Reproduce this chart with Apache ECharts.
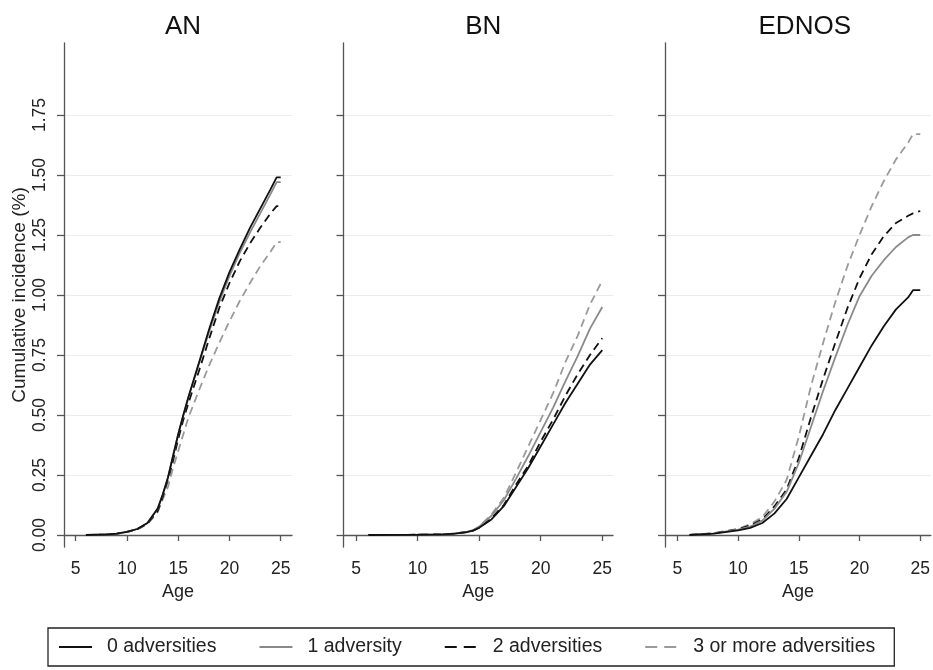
<!DOCTYPE html>
<html>
<head>
<meta charset="utf-8">
<script src="https://cdn.jsdelivr.net/npm/echarts@6/dist/echarts.min.js"></script>
<style>
  html, body { margin: 0; padding: 0; background: #fff; }
  #chart { width: 933px; height: 670px; }
</style>
</head>
<body>
<div id="chart"></div>
<script>
// panel titles and legend names
var panels = ['AN', 'BN', 'EDNOS'];
var groups = ['0 adversities', '1 adversity', '2 adversities', '3 or more adversities'];
var xTicks = [5, 10, 15, 20, 25];
var yTicks = [0, 0.25, 0.5, 0.75, 1, 1.25, 1.5, 1.75];

// AN
var agesAN = [6, 8, 9, 10, 11, 12, 13, 13.5, 14, 14.5, 15, 15.5, 16, 17, 18, 19, 20, 21, 22, 23, 24, 24.6, 25];
var an0 = [0, .002, .006, .013, .025, .05, .11, .17, .24, .33, .42, .50, .575, .715, .855, .985, 1.095, 1.19, 1.28, 1.36, 1.44, 1.49, 1.49];
var an1 = [0, .002, .006, .013, .025, .05, .11, .17, .24, .33, .42, .50, .575, .71, .845, .97, 1.08, 1.175, 1.26, 1.34, 1.42, 1.47, 1.47];
var an2 = [0, .002, .006, .013, .024, .048, .10, .16, .23, .31, .40, .48, .55, .68, .815, .945, 1.05, 1.14, 1.215, 1.28, 1.34, 1.37, 1.37];
var an3 = [0, .002, .005, .012, .023, .045, .095, .15, .20, .28, .35, .42, .49, .60, .705, .80, .89, .975, 1.05, 1.12, 1.18, 1.22, 1.22];

// BN
var agesBN = [6, 10, 12, 13, 14, 14.5, 15, 16, 17, 18, 19, 20, 21, 22, 23, 24, 25];
var bn0 = [0, .001, .003, .006, .012, .018, .03, .065, .12, .20, .28, .37, .46, .55, .63, .71, .77];
var bn1 = [0, .001, .003, .006, .013, .02, .035, .08, .145, .235, .33, .43, .53, .64, .745, .86, .95];
var bn2 = [0, .001, .003, .006, .012, .018, .03, .07, .125, .21, .29, .39, .48, .58, .67, .75, .82];
var bn3 = [0, .001, .003, .006, .013, .02, .035, .085, .155, .26, .37, .48, .59, .72, .83, .96, 1.06];

// EDNOS
var agesED = [6, 8, 10, 11, 12, 13, 14, 15, 16, 17, 18, 19, 20, 21, 22, 23, 24, 24.4, 25];
var ed0 = [0, .006, .019, .03, .05, .09, .15, .24, .33, .42, .52, .61, .70, .79, .87, .94, .99, 1.02, 1.02];
var ed1 = [0, .007, .022, .035, .06, .11, .18, .30, .45, .60, .74, .875, .995, 1.08, 1.145, 1.20, 1.24, 1.25, 1.25];
var ed2 = [0, .007, .024, .04, .065, .12, .19, .32, .49, .65, .80, .945, 1.07, 1.17, 1.245, 1.30, 1.33, 1.34, 1.35];
var ed3 = [0, .008, .026, .045, .075, .14, .23, .41, .62, .80, .97, 1.12, 1.25, 1.37, 1.475, 1.565, 1.635, 1.67, 1.67];

var panelData = [
  [agesAN, [an0, an1, an2, an3]],
  [agesBN, [bn0, bn1, bn2, bn3]],
  [agesED, [ed0, ed1, ed2, ed3]]
];

var font = 'Liberation Sans, Arial, Helvetica, sans-serif';
var lineStyles = [
  { color: '#111111', type: 'solid' },
  { color: '#8a8a8a', type: 'solid' },
  { color: '#111111', type: [8, 5] },
  { color: '#9a9a9a', type: [8, 5] }
];

var grids = [
  { left: 64, top: 43, width: 228, height: 504 },
  { left: 343.5, top: 43, width: 269.5, height: 504 },
  { left: 665, top: 43, width: 269.5, height: 504 }
];
var xRanges = [[3.859, 26.1], [3.985, 25.87], [3.985, 25.87]];

function zip(xs, ys) {
  return xs.map(function (x, i) { return [x, ys[i]]; });
}

var xAxes = [], yAxes = [], series = [], titles = [];
panels.forEach(function (name, p) {
  titles.push({
    text: name,
    left: grids[p].left + grids[p].width / 2,
    top: 9,
    textAlign: 'center',
    textStyle: { fontFamily: font, fontSize: 26, fontWeight: 'normal', color: '#111' }
  });
  xAxes.push({
    type: 'value', gridIndex: p, min: xRanges[p][0], max: xRanges[p][1],
    name: 'Age', nameLocation: 'middle', nameGap: 29,
    nameTextStyle: { fontFamily: font, fontSize: 18, color: '#222' },
    axisLine: { show: true, lineStyle: { color: '#555', width: 1.3 } },
    axisTick: { show: true, length: 6, customValues: xTicks, lineStyle: { color: '#555', width: 1.3 } },
    axisLabel: { customValues: xTicks, margin: 13, fontFamily: font, fontSize: 17.5, color: '#222' },
    splitLine: { show: false }
  });
  yAxes.push({
    type: 'value', gridIndex: p, min: -0.05, max: 2.05,
    name: p === 0 ? 'Cumulative incidence (%)' : '',
    nameLocation: 'middle', nameGap: 35,
    nameTextStyle: { fontFamily: font, fontSize: 19, color: '#222' },
    axisLine: { show: true, lineStyle: { color: '#555', width: 1.3 } },
    axisTick: { show: true, length: 7, customValues: yTicks, lineStyle: { color: '#555', width: 1.3 } },
    axisLabel: {
      show: p === 0, customValues: yTicks, rotate: 90, margin: 15,
      fontFamily: font, fontSize: 17.5, color: '#222',
      formatter: function (v) { return v.toFixed(2); }
    },
    splitLine: { show: true, lineStyle: { color: '#ececec', width: 1 } }
  });
  var d = panelData[p];
  d[1].forEach(function (vals, g) {
    series.push({
      name: groups[g], type: 'line', xAxisIndex: p, yAxisIndex: p,
      data: zip(d[0], vals), showSymbol: false, symbol: 'none',
      lineStyle: { color: lineStyles[g].color, type: lineStyles[g].type, width: 1.8 },
      itemStyle: { color: lineStyles[g].color },
      z: 10 - g, animation: false
    });
  });
});

// legend entries: longer dashes in the key, as in the original
var legendItems = groups.map(function (g, i) {
  return {
    name: g,
    lineStyle: { type: lineStyles[i].type === 'solid' ? 'solid' : [12, 7] }
  };
});

var chart = echarts.init(document.getElementById('chart'));
chart.setOption({
  backgroundColor: '#fff',
  animation: false,
  title: titles,
  grid: grids,
  xAxis: xAxes,
  yAxis: yAxes,
  legend: {
    show: true,
    data: legendItems,
    left: 48, top: 628,
    orient: 'horizontal',
    itemWidth: 33, itemHeight: 14, itemGap: 42,
    padding: [9, 19, 9, 10],
    borderColor: '#222', borderWidth: 1.3,
    itemStyle: { opacity: 0 },
    lineStyle: { width: 2 },
    textStyle: { fontFamily: font, fontSize: 19.5, color: '#222', padding: [0, 0, 0, 10] }
  },
  series: series
});
</script>
</body>
</html>
